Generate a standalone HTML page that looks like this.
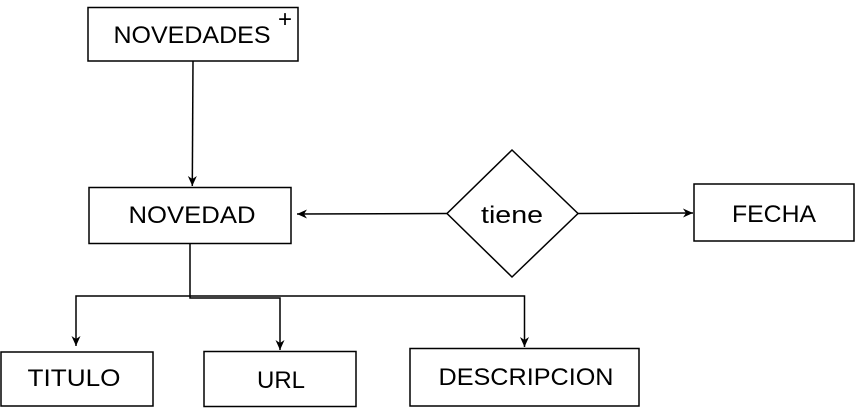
<!DOCTYPE html>
<html><head><meta charset="utf-8"><style>html,body{margin:0;padding:0;background:#fff}svg{display:block}</style></head>
<body>
<svg width="855" height="408" viewBox="0 0 855 408" xmlns="http://www.w3.org/2000/svg">
<defs><marker id="a" markerWidth="12" markerHeight="12" refX="10" refY="6" orient="auto" markerUnits="userSpaceOnUse"><path d="M0,1.5 L10,6 L0,10.5 L3,6 Z" fill="#000"/></marker></defs>
<g fill="#fff" stroke="#000" stroke-width="1.5">
<rect x="88" y="7.5" width="210" height="53.5"/>
<rect x="89" y="187.5" width="202" height="56"/>
<polygon points="512,150 578,213.5 512,277 447,213.5"/>
<rect x="694" y="184" width="160" height="57"/>
<rect x="1" y="352" width="152" height="54"/>
<rect x="204" y="351.5" width="152" height="55"/>
<rect x="410" y="348.5" width="229" height="57.5"/>
</g>
<g fill="none" stroke="#000" stroke-width="1.5">
<path d="M193,61 L192.3,186" marker-end="url(#a)"/>
<path d="M447,213.5 L297,214" marker-end="url(#a)"/>
<path d="M578,213.5 L693,213" marker-end="url(#a)"/>
<path d="M190,243.5 V296 H76 V346" marker-end="url(#a)"/>
<path d="M190,296 V298 H280 V350" marker-end="url(#a)"/>
<path d="M190,296 H524.5 V347" marker-end="url(#a)"/>
</g>
<g font-family="Liberation Sans, sans-serif" font-size="24" fill="#000" text-anchor="middle">
<text x="192" y="43" textLength="157" lengthAdjust="spacingAndGlyphs">NOVEDADES</text>
<text x="285" y="27" font-size="24">+</text>
<text x="192" y="223" textLength="127" lengthAdjust="spacingAndGlyphs">NOVEDAD</text>
<text x="512" y="223" textLength="62" lengthAdjust="spacingAndGlyphs">tiene</text>
<text x="774" y="222" textLength="84" lengthAdjust="spacingAndGlyphs">FECHA</text>
<text x="74" y="386" textLength="93" lengthAdjust="spacingAndGlyphs">TITULO</text>
<text x="281" y="388" textLength="48" lengthAdjust="spacingAndGlyphs">URL</text>
<text x="526" y="385" textLength="175" lengthAdjust="spacingAndGlyphs">DESCRIPCION</text>
</g>
</svg>
</body></html>
